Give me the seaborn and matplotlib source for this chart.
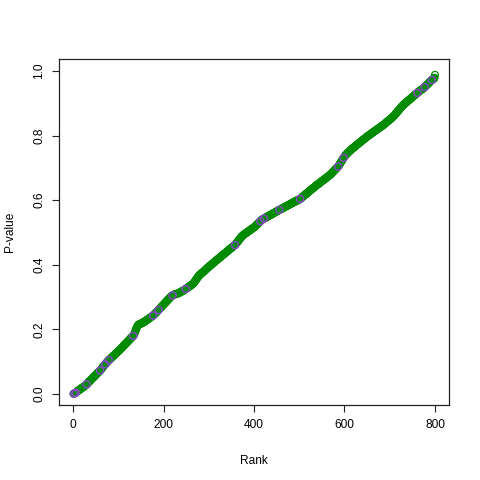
import numpy as np
import pandas as pd
import seaborn as sns
import matplotlib
matplotlib.use('Agg')
import matplotlib.pyplot as plt

# sorted p-values (in thousandths), rank 1..800
pvalue_permille = [
    1, 1, 2, 3, 3, 4, 5, 6, 8, 9, 10, 11, 12, 13, 14, 15, 16, 17, 18, 19,
    20, 21, 22, 23, 24, 25, 26, 27, 28,
    30, 31, 33, 34, 36, 37, 39, 40, 41, 43, 44, 46, 47, 49, 50, 51, 53, 54, 56, 57,
    59, 60, 61, 63, 64, 66, 67, 68, 70, 71,
    73, 75, 77, 78, 80, 82, 83, 85, 87, 89, 90, 92, 94, 95, 97, 99, 100, 102,
    103, 105, 106, 107, 109, 110, 111, 113, 114, 115, 117, 118, 119, 120, 122, 123, 124, 126, 127, 128,
    130, 131, 132, 134, 135, 136,
    138, 139, 141, 142, 144, 145, 147, 148, 150, 151, 153, 154, 156, 157, 158, 160, 161, 163, 164, 166,
    167, 169, 170, 172, 173, 175, 176, 177, 179, 180,
    182, 185, 188, 192, 195, 199, 203, 206, 209, 212, 214,
    215, 215, 216, 217, 217, 218, 219, 219, 220, 221, 222, 222, 223, 224,
    225, 226, 227, 228, 229, 230, 231, 232, 233, 234, 235, 236, 237, 238, 239, 240, 241, 242, 243, 244, 245,
    247, 248, 250, 251, 253, 254, 256, 257, 259, 260, 262, 263, 265,
    266, 268, 269, 271, 272, 274, 275, 277, 278, 280, 281, 283, 284, 286,
    287, 289, 290, 292, 293, 295, 296, 298, 299, 301, 302, 304,
    305, 305, 306, 307, 307, 308, 308, 309, 309, 310, 310, 311, 311, 312, 312, 313, 314, 314, 315, 316,
    317, 317, 318, 319, 320, 320, 321, 322, 323, 324,
    325, 326, 327, 328, 329, 330, 331, 332, 333, 334, 335, 336, 337, 338, 339, 340, 341, 343, 344, 346,
    348, 350, 352, 354, 356,
    358, 360, 362, 364, 366, 367, 368, 370, 371, 372, 374, 375, 376, 377, 378, 380, 381, 382, 384,
    385, 386, 388, 389, 390, 391, 392, 394, 395, 396, 397, 398, 400, 401, 402, 403, 404, 406, 407, 408,
    409, 410, 412, 413, 414, 415,
    416, 417, 419, 420, 421, 422, 423, 424, 426, 427, 428, 429, 430, 431, 433, 434, 435, 436, 437, 438,
    440, 441, 442, 443, 444, 445, 447, 448, 449, 450, 451, 452, 454, 455, 456, 457, 458, 459, 460, 461,
    463, 465, 467, 469, 470, 472, 474, 476, 477, 479, 481, 482, 484, 486, 488, 489, 491, 492,
    493, 494, 495, 496, 497, 498, 499, 500, 501, 502, 503, 504, 505, 506, 507, 508, 509, 510, 511, 512,
    513, 514, 515, 516, 517, 518,
    519, 521, 522, 524, 525, 526, 528, 529, 531, 532, 533, 535, 536, 538, 539,
    540, 541, 541, 542, 543, 544, 545, 545, 546, 547, 548, 549, 549, 550, 551, 552, 553, 553, 554, 555,
    556, 556, 557, 558, 559, 560, 560, 561, 562, 563, 564, 564, 565, 566, 567, 568, 568, 569, 570,
    571, 571, 572, 573, 574, 574, 575, 576, 577, 577, 578, 579, 580, 580, 581, 582, 583, 583, 584, 585,
    586, 586, 587, 588, 589, 589, 590, 591, 592, 592, 593, 594, 595, 595, 596, 597, 598, 598, 599, 600,
    600, 601, 602, 602, 603, 604,
    605, 606, 608, 609, 610, 611, 612, 613, 615, 616, 617, 618, 619, 620, 622, 623, 624, 625, 626, 627,
    629, 630, 631, 632, 633, 634, 636, 637, 638, 639, 640, 641, 643, 644, 645, 646, 647,
    648, 649, 650, 651, 652, 653, 654, 656, 657, 658, 659, 660, 661, 662, 663, 664, 665, 666, 667, 668,
    670, 671, 672, 673, 674, 675, 676, 677, 678,
    679, 681, 682, 684, 685, 687, 688, 690, 691, 692, 694, 695, 697, 698, 700, 701, 703, 704,
    706, 708, 711, 713, 715, 718, 720, 722, 724, 727, 729,
    731, 733, 735, 737, 739, 740, 742, 743, 745, 746, 747, 749, 750, 751, 753, 754, 755, 757, 758, 759,
    760, 762, 763, 764, 765, 766, 767, 769, 770, 771,
    772, 773, 774, 775, 777, 778, 779, 780, 781, 782, 783, 784, 786, 787, 788, 789, 790, 791, 792, 793,
    794, 796, 797, 798, 799, 800, 801, 802, 803, 804, 805, 806, 807,
    808, 809, 810, 811, 812, 813, 814, 815, 816, 817, 818, 819, 820, 821, 822, 823, 824, 825, 826, 827,
    828, 829, 830, 831, 832, 833,
    834, 835, 837, 838, 839, 840, 841, 842, 844, 845, 846, 847, 848, 849, 851, 852, 853, 854, 855, 856,
    858, 859,
    861, 862, 864, 866, 867, 869, 871, 872, 874, 876, 877, 879, 880, 882, 884, 885, 887, 889, 890, 892,
    893, 895,
    896, 897, 899, 900, 901, 902, 903, 905, 906, 907, 908, 909, 911, 912, 913, 914, 915, 917, 918, 919,
    920, 921, 923, 924, 925, 926, 927, 929, 930, 931,
    932, 933, 935, 936, 937, 938, 939, 940, 941, 942, 943, 944, 945, 946, 947, 948, 950, 951,
    952, 954, 955, 957, 958, 959, 961, 962, 964, 965, 966, 968, 969, 971, 972,
    973, 974, 975, 976, 977, 979, 988,
]

# ranks drawn in purple
highlight_ranks = [2, 6, 30, 60, 71, 79, 133, 177, 189, 220, 249, 358, 414, 422,
                   456, 502, 586, 598, 761, 777, 793]

x_ticks = [0, 200, 400, 600, 800]
y_ticks = [0.0, 0.2, 0.4, 0.6, 0.8, 1.0]

df = pd.DataFrame({'Rank': np.arange(1, len(pvalue_permille) + 1),
                   'P': np.array(pvalue_permille) / 1000})
hl = df[df['Rank'].isin(highlight_ranks)]

sns.set_style('white')
plt.rcParams['font.family'] = ['Liberation Sans', 'DejaVu Sans']
plt.rcParams['text.color'] = 'black'
plt.rcParams['axes.labelcolor'] = 'black'
plt.rcParams['xtick.color'] = 'black'
plt.rcParams['ytick.color'] = 'black'

fig = plt.figure(figsize=(4.8, 4.8), dpi=100)
ax = fig.add_axes([59 / 480, 1 - 405 / 480, 390 / 480, 346 / 480])

sns.scatterplot(x='Rank', y='P', data=df, ax=ax, marker='o', s=24,
                facecolors='none', edgecolor='#008B00', linewidth=0.9)
sns.scatterplot(x='Rank', y='P', data=hl, ax=ax, marker='o', s=26,
                facecolors='none', edgecolor='#9046d4', linewidth=1.0)

ax.set_xlim(-31, 831)
ax.set_ylim(-0.034, 1.037)
ax.set_xticks(x_ticks)
ax.set_yticks(y_ticks)
ax.set_xticklabels([str(t) for t in x_ticks])
ax.set_yticklabels(['%.1f' % t for t in y_ticks], rotation=90, va='center')
ax.tick_params(direction='out', length=5, width=0.8, colors='#222222',
               labelcolor='black', labelsize=8.6, pad=5, bottom=True, left=True)
for s in ax.spines.values():
    s.set_color('#222222')
    s.set_linewidth(0.9)
ax.set_xlabel('Rank', fontsize=8.6, labelpad=17)
ax.set_ylabel('P-value', fontsize=8.6, labelpad=12)

fig.savefig('out.png', dpi=100)
